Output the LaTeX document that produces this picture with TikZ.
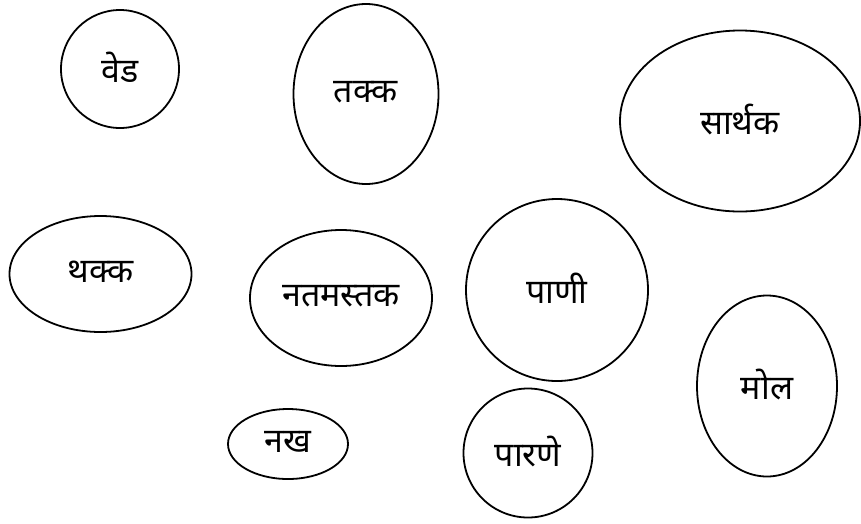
\documentclass[tikz,border=0pt]{standalone}
\usepackage{fontspec}
\newfontfamily\deva[Script=Devanagari]{Noto Sans}
\usetikzlibrary{shapes.geometric}
\newcommand{\lifttext}[1]{\raisebox{4pt}{#1}}
\tikzset{
  bubble/.style={draw=black, line width=1.8pt, ellipse, inner sep=0pt,
    font=\deva\fontsize{34}{38}\selectfont},
}
\begin{document}
\begin{tikzpicture}[x=1pt,y=-1pt]
\useasboundingbox (0,0) rectangle (861,523);
\node[bubble, minimum width=118pt, minimum height=118pt] (ved) at (120,69) {\lifttext{वेड}};
\node[bubble, minimum width=145pt, minimum height=180pt] (takka) at (366,94) {\lifttext{तक्क}};
\node[bubble, minimum width=240pt, minimum height=181pt] (sarthak) at (740,121) {\lifttext{सार्थक}};
\node[bubble, minimum width=182pt, minimum height=116pt] (thakka) at (100.5,274) {\lifttext{थक्क}};
\node[bubble, minimum width=182pt, minimum height=136pt] (natamastak) at (341,298) {\lifttext{नतमस्तक}};
\node[bubble, minimum width=182pt, minimum height=182pt] (pani) at (557,290) {\lifttext{पाणी}};
\node[bubble, minimum width=140pt, minimum height=181pt] (mol) at (767,386) {\lifttext{मोल}};
\node[bubble, minimum width=120pt, minimum height=70pt] (nakh) at (288,444) {\lifttext{नख}};
\node[bubble, minimum width=129pt, minimum height=129pt] (parane) at (528,453) {\lifttext{पारणे}};
\end{tikzpicture}
\end{document}
